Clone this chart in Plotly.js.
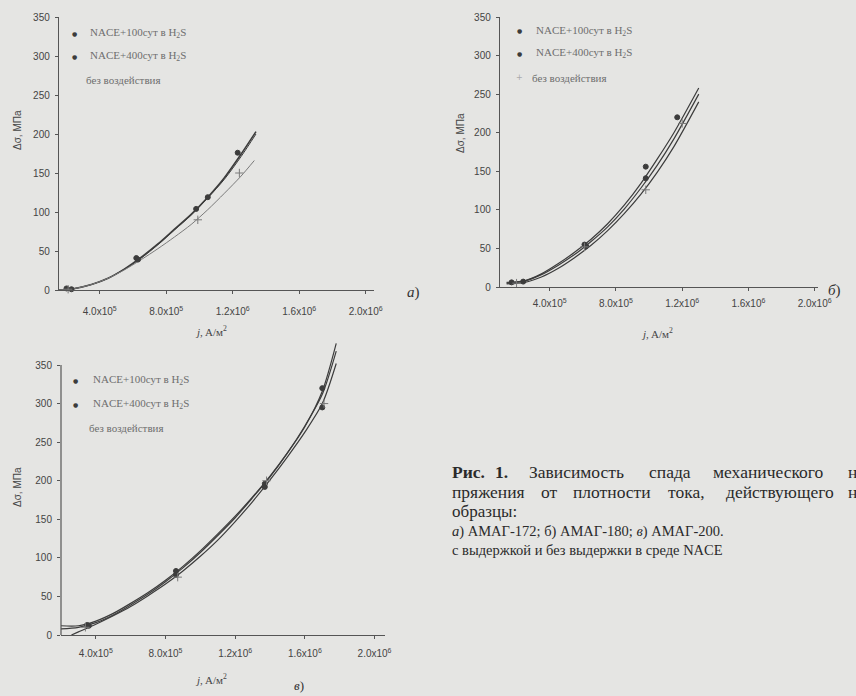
<!DOCTYPE html>
<html>
<head>
<meta charset="utf-8">
<script src="https://cdn.plot.ly/plotly-3.0.1.min.js"></script>
<style>
html,body{margin:0;padding:0;background:#e5e5e3;}
#chart{width:856px;height:696px;}
</style>
</head>
<body>
<div id="chart"></div>
<script>
// ---------- data ----------
const seriesNames = ["NACE+100сут в H<sub>2</sub>S", "NACE+400сут в H<sub>2</sub>S", "без воздействия"];

const xTickVals = [4e5, 8e5, 1.2e6, 1.6e6, 2.0e6];
const xTickText = ["4.0x10<sup>5</sup>", "8.0x10<sup>5</sup>", "1.2x10<sup>6</sup>", "1.6x10<sup>6</sup>", "2.0x10<sup>6</sup>"];
const yTickVals = [0, 50, 100, 150, 200, 250, 300, 350];

// ---- panel a) АМАГ-172 ----
const aPtsX1 = [2.0e5, 6.2e5, 9.8e5, 1.23e6];
const aPtsY1 = [2, 41, 104, 176];
const aPtsX2 = [2.3e5, 6.3e5, 1.05e6];
const aPtsY2 = [1, 39, 119];
const aPtsX3 = [2.1e5, 9.9e5, 1.24e6];
const aPtsY3 = [1, 90, 150];
const aFitX = [1.55e5, 2.5e5, 3.5e5, 4.5e5, 5.5e5, 6.5e5, 7.5e5, 8.5e5, 9.5e5, 1.05e6, 1.15e6, 1.25e6, 1.34e6];
const aFitY1 = [0, 2, 7, 15, 27, 42, 59, 78, 97, 119, 144, 174, 203];
const aFitY2 = [0, 2, 7, 15, 27, 41, 58, 77, 96, 118, 142, 171, 200];
const aFitX3 = [1.55e5, 2.5e5, 3.5e5, 4.5e5, 5.5e5, 6.5e5, 7.5e5, 8.5e5, 9.5e5, 1.05e6, 1.15e6, 1.25e6, 1.33e6];
const aFitY3 = [0, 2, 7, 15, 26, 39, 53, 68, 84, 103, 124, 146, 166];

// ---- panel б) АМАГ-180 ----
const bPtsX1 = [1.7e5, 6.1e5, 9.8e5, 1.17e6];
const bPtsY1 = [6, 55, 156, 220];
const bPtsX2 = [2.4e5, 6.2e5, 9.8e5];
const bPtsY2 = [7, 53, 141];
const bPtsX3 = [2.0e5, 6.1e5, 9.8e5, 1.2e6];
const bPtsY3 = [5, 52, 126, 212];
const bFitX = [1.4e5, 2.5e5, 3.5e5, 4.5e5, 5.5e5, 6.5e5, 7.5e5, 8.5e5, 9.5e5, 1.05e6, 1.15e6, 1.3e6];
const bFitY1 = [5, 8, 17, 30, 45, 62, 82, 106, 134, 166, 200, 258];
const bFitY2 = [6, 8, 16, 28, 42, 59, 78, 101, 128, 158, 192, 250];
const bFitY3 = [4, 6, 13, 24, 38, 54, 73, 95, 120, 149, 182, 240];

// ---- panel в) АМАГ-200 ----
const cPtsX1 = [3.5e5, 8.6e5, 1.37e6, 1.70e6];
const cPtsY1 = [13, 83, 196, 320];
const cPtsX2 = [3.6e5, 8.6e5, 1.37e6, 1.70e6];
const cPtsY2 = [12, 78, 192, 295];
const cPtsX3 = [3.4e5, 8.7e5, 1.38e6, 1.71e6];
const cPtsY3 = [10, 75, 200, 300];
const cFitX = [2.0e5, 3.0e5, 4.0e5, 5.0e5, 6.0e5, 7.0e5, 8.0e5, 9.0e5, 1.0e6, 1.1e6, 1.2e6, 1.3e6, 1.4e6, 1.5e6, 1.6e6, 1.7e6, 1.78e6];
const cFitY1 = [12, 12, 18, 28, 41, 55, 71, 89, 109, 131, 154, 179, 206, 236, 270, 316, 378];
const cFitX2 = [2.6e5, 3.0e5, 4.0e5, 5.0e5, 6.0e5, 7.0e5, 8.0e5, 9.0e5, 1.0e6, 1.1e6, 1.2e6, 1.3e6, 1.4e6, 1.5e6, 1.6e6, 1.7e6, 1.78e6];
const cFitY2 = [0, 4, 14, 25, 37, 51, 66, 83, 102, 123, 147, 173, 201, 231, 263, 300, 352];
const cFitY3 = [8, 10, 16, 26, 39, 53, 69, 87, 107, 129, 152, 178, 205, 236, 271, 312, 368];

// caption (justified lines given word by word)
const captionLine1 = ["<b>Рис.</b>", "<b>1.</b>", "Зависимость", "спада", "механического", "н"];
const captionLine2 = ["пряжения", "от", "плотности", "тока,", "действующего", "н"];
const captionLine3 = "образцы:";
const captionRest = [
  "<i>а</i>) АМАГ-172; б) АМАГ-180; <i>в</i>) АМАГ-200.",
  "с выдержкой и без выдержки в среде NACE"
];

// ---------- styling ----------
const W = 856, H = 696;
const px = v => v / W;
const py = v => 1 - v / H;
const ink = "#3c3c3c";
const lightInk = "#7a7a7a";
const tickFont = {family: "Liberation Sans, Arial, sans-serif", size: 10, color: "#444"};

function lineTrace(x, y, ax, color, width) {
  return {x: x, y: y, xaxis: "x" + ax, yaxis: "y" + ax, type: "scatter", mode: "lines",
    line: {color: color, width: width, shape: "spline", smoothing: 0.8}, showlegend: false, hoverinfo: "skip"};
}
function ptsTrace(x, y, ax, symbol, color, size) {
  return {x: x, y: y, xaxis: "x" + ax, yaxis: "y" + ax, type: "scatter", mode: "markers",
    marker: {symbol: symbol, color: color, size: size, line: {color: color, width: 1}},
    cliponaxis: false, showlegend: false};
}

const traces = [
  lineTrace(aFitX, aFitY1, "", ink, 1.6),
  lineTrace(aFitX, aFitY2, "", ink, 1.0),
  lineTrace(aFitX3, aFitY3, "", lightInk, 1.0),
  ptsTrace(aPtsX1, aPtsY1, "", "circle", ink, 5),
  ptsTrace(aPtsX2, aPtsY2, "", "circle", ink, 5),
  ptsTrace(aPtsX3, aPtsY3, "", "cross-thin", lightInk, 6),

  lineTrace(bFitX, bFitY1, "2", ink, 1.2),
  lineTrace(bFitX, bFitY2, "2", ink, 1.2),
  lineTrace(bFitX, bFitY3, "2", ink, 1.2),
  ptsTrace(bPtsX1, bPtsY1, "2", "circle", ink, 5),
  ptsTrace(bPtsX2, bPtsY2, "2", "circle", ink, 5),
  ptsTrace(bPtsX3, bPtsY3, "2", "cross-thin", lightInk, 6),

  lineTrace(cFitX, cFitY1, "3", ink, 1.2),
  lineTrace(cFitX2, cFitY2, "3", ink, 1.2),
  lineTrace(cFitX, cFitY3, "3", ink, 1.2),
  ptsTrace(cPtsX1, cPtsY1, "3", "circle", ink, 5),
  ptsTrace(cPtsX2, cPtsY2, "3", "circle", ink, 5),
  ptsTrace(cPtsX3, cPtsY3, "3", "cross-thin", lightInk, 6)
];

function xAxis(d0, d1, r0, r1, anchor, standoff) {
  return {domain: [px(d0), px(d1)], range: [r0, r1], anchor: anchor, showgrid: false, zeroline: false,
    showline: true, linecolor: "#555", linewidth: 1.2, ticks: "outside", ticklen: 3, tickcolor: "#555",
    tickvals: xTickVals, ticktext: xTickText, tickfont: tickFont, ticklabelstandoff: standoff, fixedrange: true};
}
function yAxis(d0, d1, r0, r1, anchor, showline) {
  return {domain: [py(d1), py(d0)], range: [r0, r1], anchor: anchor, showgrid: false, zeroline: false,
    showline: showline, linecolor: "#555", linewidth: 1.2, ticks: "outside", ticklen: 3, tickcolor: "#555",
    tickvals: yTickVals, tickfont: tickFont, ticklabelstandoff: 3, fixedrange: true};
}

const annotations = [];
function ann(x, y, text, opts) {
  annotations.push(Object.assign({xref: "paper", yref: "paper", x: px(x), y: py(y), text: text,
    showarrow: false, xanchor: "left", yanchor: "middle",
    font: {family: "Liberation Serif, Times New Roman, serif", size: 11, color: "#6e6e6e"}}, opts || {}));
}
function legend(symX, textX, ys, third) {
  ann(symX, ys[0], "●", {xanchor: "center", font: {family: "DejaVu Sans", size: 6, color: ink}});
  ann(symX, ys[1], "●", {xanchor: "center", font: {family: "DejaVu Sans", size: 6, color: ink}});
  if (third) ann(symX, ys[2], "+", {xanchor: "center", font: {family: "DejaVu Sans", size: 8, color: "#aaa"}});
  ann(textX, ys[0], seriesNames[0]);
  ann(textX, ys[1], seriesNames[1]);
  ann(textX - 4, ys[2], seriesNames[2]);
}
legend(74, 88, [33, 56, 80], false);
legend(519, 534, [31, 53, 78], true);
legend(75, 91, [380, 404, 428], false);

const titleFont = {family: "Liberation Sans, Arial, sans-serif", size: 10, color: "#444"};
ann(17, 130, "Δσ, МПа", {xanchor: "center", textangle: -90, font: titleFont});
ann(460, 133, "Δσ, МПа", {xanchor: "center", textangle: -90, font: titleFont});
ann(17, 487, "Δσ, МПа", {xanchor: "center", textangle: -90, font: titleFont});
const xTitleFont = {family: "Liberation Serif, serif", size: 11, color: "#444"};
ann(211, 331, "<i>j</i>, A/м<sup>2</sup>", {xanchor: "center", font: xTitleFont});
ann(657, 333, "<i>j</i>, A/м<sup>2</sup>", {xanchor: "center", font: xTitleFont});
ann(211, 679, "<i>j</i>, A/м<sup>2</sup>", {xanchor: "center", font: xTitleFont});

const panelFont = {family: "Liberation Serif, serif", size: 15, color: "#333"};
ann(405, 292, "<i>a</i>)", {font: panelFont});
ann(826, 290, "<i>б</i>)", {font: panelFont});
ann(292, 685, "<i>в</i>)", {font: {family: "Liberation Serif, serif", size: 13, color: "#333"}});

// caption
const capFont = {family: "Liberation Serif, Times New Roman, serif", size: 17.5, color: "#2a2a2a"};
const capFont2 = {family: "Liberation Serif, Times New Roman, serif", size: 14.5, color: "#2a2a2a"};
const line1X = [450, 493, 527, 647, 711, 846];
const line2X = [450, 539, 571, 666, 724, 846];
captionLine1.forEach((t, i) => ann(line1X[i], 472, t, {font: capFont}));
captionLine2.forEach((t, i) => ann(line2X[i], 492, t, {font: capFont}));
ann(450, 511, captionLine3, {font: {family: "Liberation Serif, Times New Roman, serif", size: 17, color: "#2a2a2a"}});
const restY = [531, 550];
captionRest.forEach((t, i) => ann(450, restY[i], t, {font: capFont2}));

const layout = {
  width: W, height: H,
  margin: {l: 0, r: 0, t: 0, b: 0},
  paper_bgcolor: "#e5e5e3", plot_bgcolor: "rgba(0,0,0,0)",
  showlegend: false,
  xaxis: xAxis(59, 374, 1.55e5, 2.05e6, "y", 9),
  yaxis: yAxis(17, 290, 0, 350, "x", true),
  xaxis2: xAxis(500, 818, 1.0e5, 2.02e6, "y2", 4),
  yaxis2: yAxis(17, 287, 0, 350, "x2", true),
  xaxis3: xAxis(61, 385, 2.0e5, 2.06e6, "y3", 6),
  yaxis3: yAxis(338, 635, 0, 385, "x3", false),
  shapes: [{type: "line", xref: "x3 domain", yref: "y3", x0: 0, x1: 0, y0: 0, y1: 350,
    line: {color: "#555", width: 1.2}}],
  annotations: annotations
};

Plotly.newPlot("chart", traces, layout, {displayModeBar: false, staticPlot: true});
</script>
</body>
</html>
